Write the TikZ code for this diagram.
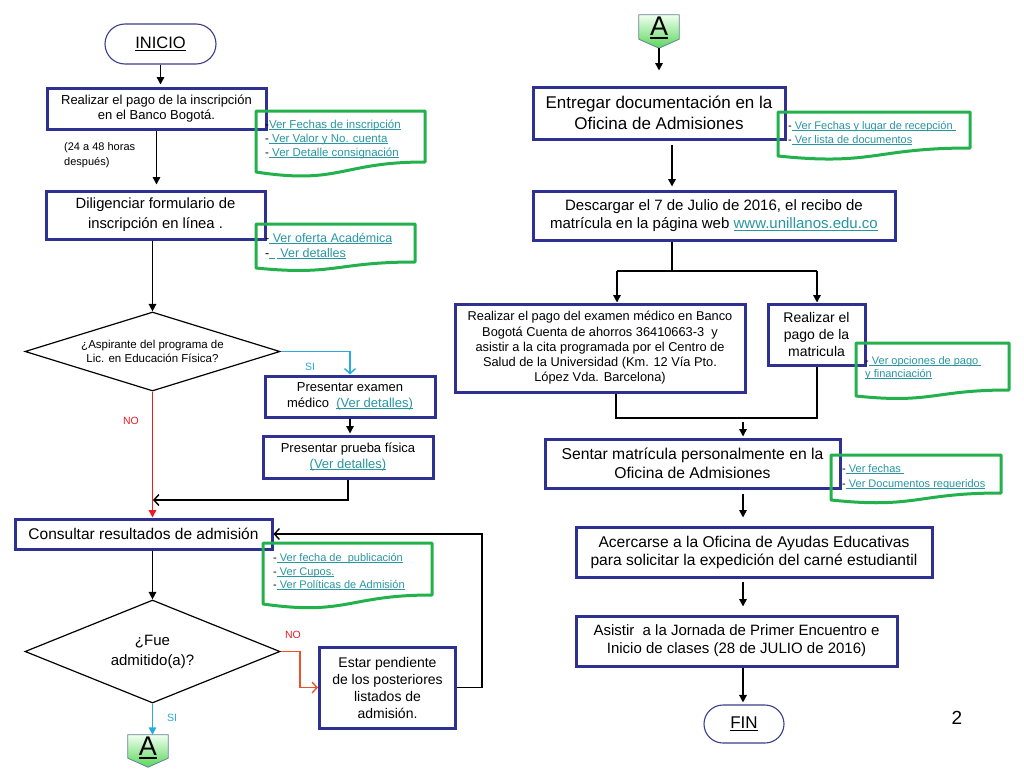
\documentclass[tikz,border=0pt]{standalone}
\usepackage{fontspec}
\setmainfont{Liberation Sans}
\usetikzlibrary{shapes.geometric,arrows.meta}
\definecolor{boxblue}{RGB}{46,49,146}
\definecolor{termblue}{RGB}{60,60,140}
\definecolor{notegreen}{RGB}{34,177,76}
\definecolor{linkc}{RGB}{40,150,160}
\definecolor{cyanc}{RGB}{41,171,226}
\definecolor{redc}{RGB}{237,28,36}
\definecolor{orc}{RGB}{240,80,40}
\definecolor{agreen}{RGB}{90,214,90}
\definecolor{aedge}{RGB}{100,130,150}
\newcommand\myfs[2]{\fontsize{#1}{#2}\selectfont}
\newcommand\myul[1]{\setbox0\hbox{#1}\rlap{\rule[-0.13em]{\wd0}{0.07em}}\box0}
\newcommand\lk[1]{\textcolor{linkc}{\myul{#1}}}
\newcommand\docshape[6]{%
  \draw[note] (#1,#2) -- (#3,#2) -- (#3,#4) .. controls ({(#1+#3)/2},#4) and ({(#1+#3)/2},#6) .. (#1,#5) -- cycle;}
\begin{document}
\begin{tikzpicture}[x=1pt,y=-1pt,
  box/.style={draw=boxblue, line width=3pt, fill=white, inner sep=1pt, align=center},
  term/.style={draw=termblue, line width=1.1pt, fill=white, align=center, inner sep=0},
  dec/.style={draw=black, line width=1.2pt, diamond, inner sep=0, align=center, fill=white},
  arr/.style={line width=1.5pt, -{Triangle[length=7.5pt,width=7.5pt]}},
  oarr/.style={line width=1.4pt, -{Straight Barb[length=5pt,width=11pt]}},
  plain/.style={line width=1.5pt},
  note/.style={draw=notegreen, line width=3pt, line join=round},
  ntext/.style={anchor=north west, inner sep=0, align=left},
  lab/.style={font=\myfs{10.5}{12}, inner sep=0},
]
\useasboundingbox[fill=white] (0,0) rectangle (1024,768);

% ---------- left column ----------
\node[term, minimum width=111, minimum height=40, rounded corners=20pt, font=\myfs{16.5}{19}] (ini) at (160.5,44) {\myul{INICIO}};
\node[box, minimum width=219, minimum height=41, font=\myfs{13}{15}] (b1) at (156.5,108.5) {Realizar el pago de la inscripción\\en el Banco Bogotá.};
\node[box, minimum width=219, minimum height=48, font=\myfs{14.8}{20}] (b2) at (155.5,215) {Diligenciar formulario de\\inscripción en línea .};
\node[dec, shape aspect=3.2, minimum width=255, minimum height=79, font=\myfs{11.5}{14}] (d1) at (152.5,351.5) {¿Aspirante del programa de\\Lic. en Educación Física?};
\node[box, minimum width=170, minimum height=41, font=\myfs{13}{15.5}] (b3) at (350,396.5) {Presentar examen\\médico\ \ \lk{(Ver detalles)}};
\node[box, minimum width=170, minimum height=42, font=\myfs{13}{15.5}] (b4) at (348,457) {Presentar prueba física\\\lk{(Ver detalles)}};
\node[box, minimum width=257, minimum height=30, font=\myfs{15.5}{18}] (b5) at (143.5,534) {Consultar resultados de admisión};
\node[dec, shape aspect=2.48, minimum width=255, minimum height=103, font=\myfs{15}{20}] (d2) at (152.5,651.5) {¿Fue\\admitido(a)?};
\node[box, minimum width=136, minimum height=81, font=\myfs{14}{17}] (b6) at (387.5,687.5) {Estar pendiente\\de los posteriores\\listados de\\admisión.};

\node[minimum width=40, minimum height=23, inner sep=0] (A2) at (148,746.5) {};
\shade[top color=green!6!white, bottom color=agreen, draw=aedge, line width=0.8pt]
  (A2.north west) -- (A2.north east) -- (A2.south east) -- ([yshift=-9pt]A2.south) -- (A2.south west) -- cycle;
\node[font=\myfs{27}{30}, inner sep=0] (A2t) at ([yshift=-1pt]A2.center) {\myul{A}};

\node[ntext, font=\myfs{11}{15}] (lab1) at (64,142) {(24 a 48 horas\\después)};
\node[lab, text=cyanc] (si1) at (310,367) {SI};
\node[lab, text=redc] (no1) at (131,421) {NO};
\node[lab, text=redc] (no2) at (293,635) {NO};
\node[lab, text=cyanc] (si2) at (172,718) {SI};

% left connectors
\draw[arr, shorten >=2pt] (ini.south) -- (ini.south |- b1.north);
\draw[arr, shorten >=5pt] (b1.south) -- (b1.south |- b2.north);
\draw[arr] (d1.north |- b2.south) -- (d1.north);
\draw[oarr, cyanc] (d1.east) -- (d1.east -| b3.north) -- (b3.north);
\draw[arr, shorten >=1pt] (b3.south) -- (b3.south |- b4.north);
\coordinate (m1) at (153,500);
\draw[oarr] (b4.south) |- (m1);
\draw[arr, redc] (d1.south) -- (d1.south |- b5.north);
\draw[arr] (d2.north |- b5.south) -- (d2.north);
\coordinate (k1) at (300,651.5);
\draw[oarr, orc] (d2.east) -- (k1) |- (b6.west);
\coordinate (k2) at (482,534);
\draw[oarr] (b6.east) -| (k2) -- (b5.east);
\draw[arr, cyanc] (d2.south) -- (d2.south |- A2.north);

% ---------- right column ----------
\node[minimum width=40, minimum height=24, inner sep=0] (A1) at (659,27) {};
\shade[top color=green!6!white, bottom color=agreen, draw=aedge, line width=0.8pt]
  (A1.north west) -- (A1.north east) -- (A1.south east) -- ([yshift=-9pt]A1.south) -- (A1.south west) -- cycle;
\node[font=\myfs{27}{30}, inner sep=0] (A1t) at ([yshift=-1pt]A1.center) {\myul{A}};

\node[box, minimum width=252, minimum height=52, font=\myfs{17}{21}] (b7) at (659,113) {Entregar documentación en la\\Oficina de Admisiones};
\node[box, minimum width=362, minimum height=49, font=\myfs{15}{18.5}] (b8) at (714,215.5) {Descargar el 7 de Julio de 2016, el recibo de\\matrícula en la página web \lk{www.unillanos.edu.co}};
\node[box, minimum width=290, minimum height=88, font=\myfs{12.8}{15.2}] (b9) at (600,348) {Realizar el pago del examen médico en Banco\\Bogotá Cuenta de ahorros 36410663-3\ \ y\\asistir a la cita programada por el Centro de\\Salud de la Universidad (Km. 12 Vía Pto.\\López Vda. Barcelona)};
\node[box, minimum width=97, minimum height=61, font=\myfs{14}{17.3}] (b10) at (816.5,334.5) {Realizar el\\pago de la\\matricula};
\node[box, minimum width=295, minimum height=49, font=\myfs{15.7}{18.5}] (b11) at (692.5,463.5) {Sentar matrícula personalmente en la\\Oficina de Admisiones};
\node[box, minimum width=356, minimum height=50, font=\myfs{15.6}{18}] (b12) at (754,552) {Acercarse a la Oficina de Ayudas Educativas\\para solicitar la expedición del carné estudiantil};
\node[box, minimum width=321, minimum height=50, font=\myfs{15}{18}] (b13) at (736.5,641) {Asistir\ \ a la Jornada de Primer Encuentro e\\Inicio de clases (28 de JULIO de 2016)};
\node[term, minimum width=80, minimum height=38, rounded corners=19pt, font=\myfs{17}{20}] (fin) at (744,724) {\myul{FIN}};
\node[font=\myfs{19}{22}, inner sep=0] (pg) at (957,718) {2};

% right connectors
\draw[arr, shorten >=15pt] ([yshift=-9pt]A1.south) -- (A1.south |- b7.north);
\coordinate (cx1) at (672,0);
\coordinate (cx2) at (743,0);
\draw[arr, shorten <=4pt, shorten >=3pt] (b7.south -| cx1) -- (b8.north -| cx1);
\coordinate (s1) at (617,271);
\coordinate (s2) at (817,271);
\draw[plain] (b8.south -| cx1) -- (cx1 |- s1);
\draw[plain] (s1) -- (s2);
\draw[arr] (s1) -- (s1 |- b9.north);
\draw[arr] (s2) -- (s2 |- b10.north);
\coordinate (j1) at (616,418);
\coordinate (j2) at (817,418);
\draw[plain] (b9.south -| j1) -- (j1) -- (j2) -- (b10.south -| j2);
\draw[arr, shorten <=4pt, shorten >=1pt] (cx2 |- j1) -- (cx2 |- b11.north);
\draw[arr, shorten <=4pt, shorten >=8pt] (b11.south -| cx2) -- (b12.north -| cx2);
\draw[arr, shorten <=3pt, shorten >=8pt] (b12.south -| cx2) -- (b13.north -| cx2);
\draw[arr, shorten >=2pt] (b13.south -| cx2) -- (fin.north -| cx2);

% ---------- notes ----------
\docshape{256}{111}{425}{162}{172}{185}
\node[ntext, font=\myfs{11.5}{14}] (n1) at (265,120) {-\lk{Ver Fechas de inscripción}\\-\lk{ Ver Valor y No. cuenta}\\-\lk{ Ver Detalle consignación}};
\docshape{256}{224}{415}{262}{268}{276}
\node[ntext, font=\myfs{12.5}{15}] (n2) at (265,233) {-\lk{ Ver oferta Académica}\\-\lk{\ \,}\,\lk{ Ver detalles}};
\docshape{263}{543}{432}{595}{604}{616}
\node[ntext, font=\myfs{11}{13.5}] (n3) at (273,553.5) {-\lk{ Ver fecha de\ \ publicación}\\-\lk{ Ver Cupos.}\\-\lk{ Ver Políticas de Admisión}};
\docshape{778}{112}{970}{148}{156}{166}
\node[ntext, font=\myfs{11}{14}] (n7) at (788,121.5) {-\lk{ Ver Fechas y lugar de recepción }\\-\lk{ Ver lista de documentos}};
\docshape{856}{343}{1009}{390}{396}{404}
\node[ntext, font=\myfs{11}{13.5}] (n10) at (865,356) {-\lk{ Ver opciones de pago }\\\lk{y financiación}};
\docshape{831}{455}{1001}{493}{500}{509}
\node[ntext, font=\myfs{11}{15}] (n11) at (842,464.5) {-\lk{ Ver fechas }\\-\lk{ Ver Documentos requeridos}};
\end{tikzpicture}
\end{document}
